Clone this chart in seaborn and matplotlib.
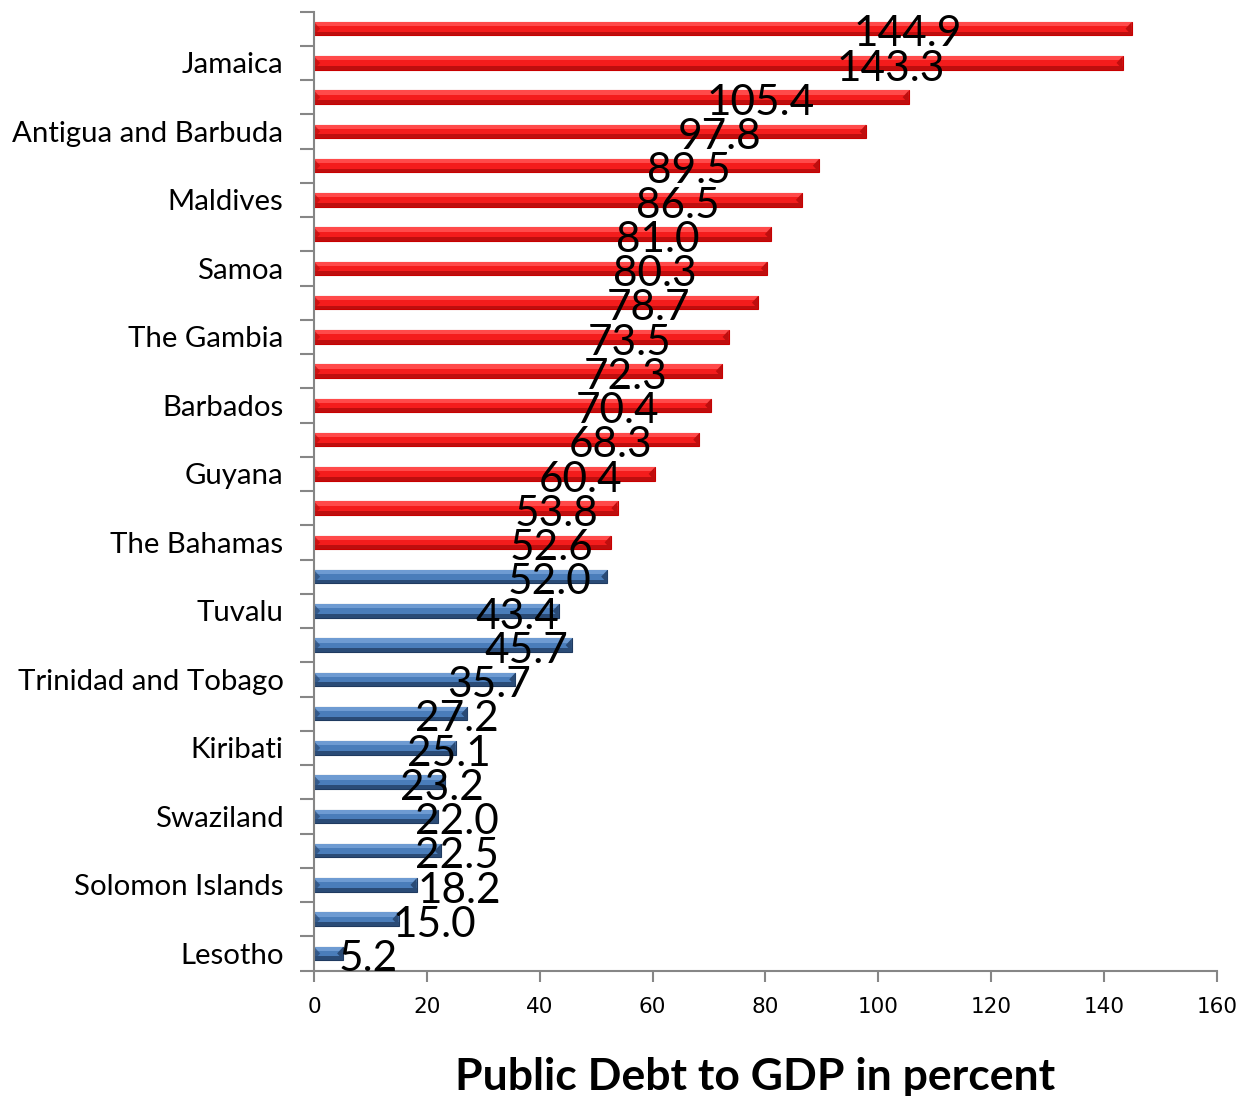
import numpy as np
import pandas as pd
import matplotlib
matplotlib.use("Agg")
import matplotlib.pyplot as plt
from matplotlib.patches import Rectangle, Polygon
import seaborn as sns

# Public debt to GDP, one row per country, listed top to bottom.
# Only every other country name is printed on the axis.
countries = ["", "Jamaica", "", "Antigua and Barbuda", "", "Maldives", "", "Samoa",
             "", "The Gambia", "", "Barbados", "", "Guyana", "", "The Bahamas",
             "", "Tuvalu", "", "Trinidad and Tobago", "", "Kiribati", "", "Swaziland",
             "", "Solomon Islands", "", "Lesotho"]
debt = [144.9, 143.3, 105.4, 97.8, 89.5, 86.5, 81.0, 80.3, 78.7, 73.5, 72.3, 70.4,
        68.3, 60.4, 53.8, 52.6, 52.0, 43.4, 45.7, 35.7, 27.2, 25.1, 23.2, 22.0,
        22.5, 18.2, 15.0, 5.2]
group = ["higher"] * 16 + ["lower"] * 12
x_ticks = [0, 20, 40, 60, 80, 100, 120, 140, 160]

# bar styling: base, highlight, shadow, edge
styles = {
    "higher": dict(base="#F41C1C", light="#FF4A4A", dark="#BE0E0E", edge="#C80000"),
    "lower": dict(base="#4A7DBA", light="#6E9BD2", dark="#2A4B76", edge="#1F3A60"),
}
# extra horizontal shift for a few crowded value labels (data units)
label_shift = {1: -2.0, 23: 3.4, 24: 3.0, 25: 6.4, 26: 4.1, 27: 0.9}

sns.set_style("ticks")
plt.rcParams["font.family"] = ["Lato", "DejaVu Sans"]
plt.rcParams["text.color"] = "black"
plt.rcParams["axes.labelcolor"] = "black"
plt.rcParams["xtick.labelcolor"] = "black"
plt.rcParams["ytick.labelcolor"] = "black"

df = pd.DataFrame({"row": [str(i) for i in range(len(debt))],
                   "debt": debt, "group": group})

fig = plt.figure(figsize=(12.38, 10.96), dpi=100)
ax = fig.add_axes([0.2536, 0.1145, 0.7294, 0.8750])

sns.barplot(data=df, x="debt", y="row", hue="group", dodge=False, width=0.39,
            palette={k: v["base"] for k, v in styles.items()}, saturation=1,
            legend=False, ax=ax, linewidth=0)

# bevel look: light top band, dark bottom band, shaded end caps
for p in list(ax.patches):
    x0, y0 = p.get_x(), p.get_y()
    w, h = p.get_width(), p.get_height()
    row = int(round(y0 + h / 2))
    st = styles[group[row]]
    p.set_edgecolor(st["edge"])
    p.set_linewidth(0.8)
    ax.add_patch(Rectangle((x0, y0), w, h * 0.32, facecolor=st["light"],
                           edgecolor="none", zorder=p.get_zorder() + 0.1))
    ax.add_patch(Rectangle((x0, y0 + h * 0.72), w, h * 0.28, facecolor=st["dark"],
                           edgecolor="none", zorder=p.get_zorder() + 0.1))
    cap = min(1.1, w / 2)
    ax.add_patch(Polygon([(x0 + w, y0), (x0 + w - cap, y0 + h / 2), (x0 + w, y0 + h)],
                         closed=True, facecolor=st["dark"], edgecolor="none",
                         zorder=p.get_zorder() + 0.2))
    ax.add_patch(Polygon([(x0, y0), (x0 + cap, y0 + h / 2), (x0, y0 + h)],
                         closed=True, facecolor=st["dark"], edgecolor="none",
                         alpha=0.7, zorder=p.get_zorder() + 0.2))

# value labels
for i, v in enumerate(debt):
    ax.text(0.66 * v + label_shift.get(i, 0.0), i + 0.17, f"{v:.1f}",
            ha="left", va="center", fontsize=30.5, color="black", zorder=10)

axis_grey = "#868686"
ax.set_xlim(0, 160)
ax.set_ylim(len(debt) - 0.5, -0.5)
ax.set_xticks(x_ticks)
ax.set_xticklabels([str(t) for t in x_ticks], family=["Liberation Sans Narrow", "DejaVu Sans"],
                   fontsize=15.5)
ax.set_yticks(range(len(debt)))
ax.set_yticklabels(countries, fontsize=21.2)
ax.set_yticks(np.arange(-0.5, len(debt), 1.0), minor=True)
ax.tick_params(axis="y", which="major", length=0, pad=22)
ax.tick_params(axis="y", which="minor", length=10, width=1.5, color=axis_grey)
ax.tick_params(axis="x", which="major", length=8, width=1.5, color=axis_grey, pad=11)

for side in ("top", "right"):
    ax.spines[side].set_visible(False)
for side in ("left", "bottom"):
    ax.spines[side].set_color(axis_grey)
    ax.spines[side].set_linewidth(1.5)

ax.set_ylabel("")
ax.set_xlabel("Public Debt to GDP in percent", fontsize=32, fontweight="bold",
              color="black")
ax.xaxis.set_label_coords(0.489, -0.09)

fig.savefig("out.png", dpi=100)
